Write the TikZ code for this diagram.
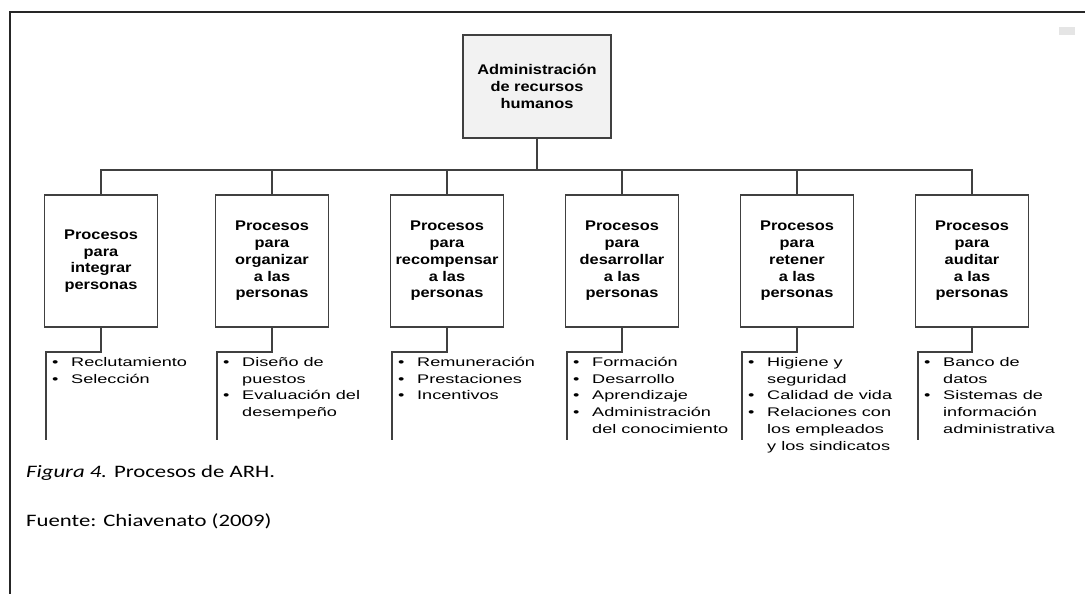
\documentclass[tikz,border=0pt]{standalone}
\usepackage{fontspec}
\setmainfont{Liberation Sans}
\newfontfamily\boxfont{Liberation Sans}[FakeStretch=1.17]
\newfontfamily\listfont{Liberation Sans}[FakeStretch=1.45]
\newfontfamily\capfont{Carlito}[FakeStretch=1.3]
\newcommand{\bl}{\makebox[19pt][l]{\textbullet}}
\newcommand{\ind}{\hspace*{19pt}}
\newcommand{\lst}[1]{\begin{tabular}[t]{@{}l@{}}#1\end{tabular}}
\begin{document}
\begin{tikzpicture}[x=1pt,y=-1pt,
  frame/.style={draw=black!85,line width=1.4pt},
  conn/.style={draw=black!75,line width=1.1pt},
  topbox/.style={draw=black!75,line width=1.3pt,fill=black!5,minimum width=148pt,minimum height=103pt,inner sep=0pt,align=center,font=\boxfont\bfseries\fontsize{14}{16.7}\selectfont},
  childbox/.style={draw=black!75,line width=1.3pt,fill=white,minimum width=113pt,minimum height=132pt,inner sep=0pt,align=center,font=\boxfont\bfseries\fontsize{14}{16.7}\selectfont},
  listtext/.style={anchor=base west,inner sep=0pt,font=\listfont\fontsize{12.5}{16.7}\selectfont},
  captext/.style={anchor=base west,inner sep=0pt,font=\capfont\fontsize{17.5}{20}\selectfont}]
\useasboundingbox (0,0) rectangle (1085,594);
% frame
\draw[frame] (10,594) -- (10,12) -- (1085,12);
\fill[black!10] (1059,27) rectangle (1075,35);
% top
\node[topbox] (top) at (537,86.5) {Administración\\de recursos\\humanos};
\coordinate (bar) at (537,170);
% children
\node[childbox] (c1) at (101,261) {Procesos\\para\\integrar\\personas};
\node[childbox] (c2) at (272,261) {Procesos\\para\\organizar\\a las\\personas};
\node[childbox] (c3) at (447,261) {Procesos\\para\\recompensar\\a las\\personas};
\node[childbox] (c4) at (622,261) {Procesos\\para\\desarrollar\\a las\\personas};
\node[childbox] (c5) at (797,261) {Procesos\\para\\retener\\a las\\personas};
\node[childbox] (c6) at (972,261) {Procesos\\para\\auditar\\a las\\personas};
\foreach \i in {1,...,6}{
  \draw[conn] (top.south) -- (bar) -| (c\i.north);
}
% list lines
\foreach \i/\xl in {1/46,2/217,3/392,4/567,5/742,6/918}{
  \coordinate (k\i) at (\xl,352);
  \coordinate (lb\i) at (\xl,440);
  \draw[conn] (c\i.south) |- (k\i) -- (lb\i);
}
\node[listtext] (t1) at (52,366.5) {\lst{\bl Reclutamiento\\\bl Selección}};
\node[listtext] (t2) at (223,366.5) {\lst{\bl Diseño de\\\ind puestos\\\bl Evaluación del\\\ind desempeño}};
\node[listtext] (t3) at (398,366.5) {\lst{\bl Remuneración\\\bl Prestaciones\\\bl Incentivos}};
\node[listtext] (t4) at (573,366.5) {\lst{\bl Formación\\\bl Desarrollo\\\bl Aprendizaje\\\bl Administración\\\ind del conocimiento}};
\node[listtext] (t5) at (748,366.5) {\lst{\bl Higiene y\\\ind seguridad\\\bl Calidad de vida\\\bl Relaciones con\\\ind los empleados\\\ind y los sindicatos}};
\node[listtext] (t6) at (924,366.5) {\lst{\bl Banco de\\\ind datos\\\bl Sistemas de\\\ind información\\\ind administrativa}};
% captions
\node[captext] (cap1) at (26,477) {\textit{Figura 4.} Procesos de ARH.};
\node[captext] (cap2) at (26,526) {Fuente: Chiavenato (2009)};
\end{tikzpicture}
\end{document}
